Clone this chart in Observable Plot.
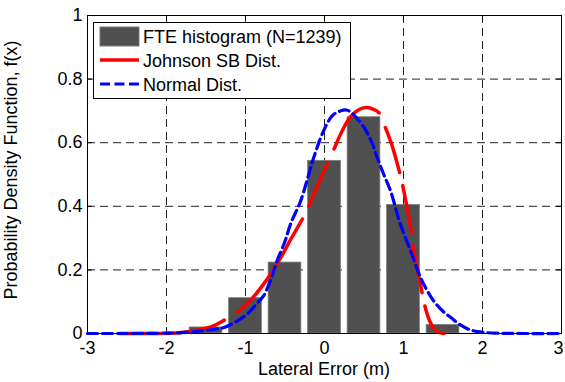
<!DOCTYPE html>
<html>
<head>
<meta charset="utf-8">
<script src="https://cdn.jsdelivr.net/npm/d3@7"></script>
<script src="https://cdn.jsdelivr.net/npm/@observablehq/plot@0.6"></script>
<style>
  html, body { margin: 0; padding: 0; background: white; }
  #chart { width: 565px; height: 382px; overflow: hidden; }
</style>
</head>
<body>
<div id="chart"></div>
<script>
// ---- data ----
const xTicks = [-3, -2, -1, 0, 1, 2, 3];
const yTicks = [0, 0.2, 0.4, 0.6, 0.8, 1];
const yTickLabels = ["0", "0.2", "0.4", "0.6", "0.8", "1"];

const binCenters = [-1.5, -1, -0.5, 0, 0.5, 1, 1.5];
const binHeights = [0.019, 0.111, 0.223, 0.543, 0.680, 0.404, 0.027];
const binHalfWidth = 0.207;

const johnsonX = [-2.6, -2.2, -1.85, -1.6, -1.4, -1.27, -1.105, -0.9, -0.725, -0.55, -0.43, -0.28, -0.2, -0.08, 0.034, 0.12, 0.22, 0.33, 0.45, 0.54, 0.62, 0.69, 0.77, 0.85, 0.95, 0.99, 1.05, 1.10, 1.12, 1.17, 1.235, 1.27, 1.33, 1.38, 1.44, 1.51];
const johnsonY = [0, 0, 0.002, 0.011, 0.025, 0.042, 0.066, 0.115, 0.171, 0.24, 0.295, 0.36, 0.40, 0.47, 0.533, 0.58, 0.635, 0.682, 0.706, 0.711, 0.705, 0.694, 0.648, 0.595, 0.507, 0.465, 0.39, 0.318, 0.276, 0.21, 0.129, 0.087, 0.04, 0.017, 0.004, 0];
// x-intervals where the Johnson SB line is broken in the reference
const johnsonGaps = [[-1.27, -1.105], [-0.28, -0.2], [0.034, 0.12], [0.69, 0.77], [0.95, 0.99], [1.10, 1.12], [1.235, 1.27]];

const normalX = [-3, -2.5, -2, -1.8, -1.6, -1.4, -1.27, -1.1, -0.98, -0.87, -0.77, -0.68, -0.6, -0.5, -0.43, -0.3, -0.2, -0.135, -0.01, 0.1, 0.2, 0.28, 0.36, 0.5, 0.6, 0.667, 0.75, 0.835, 0.96, 1.09, 1.215, 1.3, 1.38, 1.5, 1.6, 1.72, 1.85, 2, 2.2, 2.5, 3];
const normalY = [0, 0, 0.001, 0.003, 0.007, 0.013, 0.019, 0.04, 0.061, 0.09, 0.119, 0.17, 0.229, 0.29, 0.344, 0.418, 0.5, 0.554, 0.638, 0.685, 0.70, 0.703, 0.69, 0.648, 0.60, 0.554, 0.50, 0.449, 0.344, 0.26, 0.176, 0.135, 0.103, 0.07, 0.05, 0.027, 0.011, 0.004, 0.001, 0, 0];

const legendLabels = ["FTE histogram (N=1239)", "Johnson SB Dist.", "Normal Dist."];
const xLabel = "Lateral Error (m)";
const yLabel = "Probability Density Function, f(x)";

// ---- tables ----
const bars = binCenters.map((c, i) => ({x1: c - binHalfWidth, x2: c + binHalfWidth, y: binHeights[i]}));
const johnson = johnsonX.map((x, i) => ({x, y: johnsonY[i]}));
const normal = normalX.map((x, i) => ({x, y: normalY[i]}));

const font = "'Liberation Sans', Arial, Helvetica, sans-serif";
const fs = 18;
const gridStyle = {stroke: "#222", strokeWidth: 1, strokeDasharray: "8,5"};
const fmtX = d => String(d).replace("−", "-");

const chart = Plot.plot({
  width: 565,
  height: 382,
  marginLeft: 87,
  marginRight: 4,
  marginTop: 15,
  marginBottom: 49,
  style: {fontFamily: font, fontSize: fs + "px", background: "white", color: "black"},
  x: {domain: [-3, 3]},
  y: {domain: [0, 1]},
  marks: [
    Plot.ruleX(xTicks.slice(1, -1), gridStyle),
    Plot.ruleY(yTicks.slice(1, -1), gridStyle),
    // inward tick marks
    Plot.ruleX(xTicks, {y1: 0, y2: 0.016, stroke: "black"}),
    Plot.ruleX(xTicks, {y1: 0.984, y2: 1, stroke: "black"}),
    Plot.ruleY(yTicks, {x1: -3, x2: -2.94, stroke: "black"}),
    Plot.ruleY(yTicks, {x1: 2.94, x2: 3, stroke: "black"}),
    Plot.rectY(bars, {x1: "x1", x2: "x2", y: "y", fill: "#505050", stroke: "#7a7a7a", strokeWidth: 0.8}),
    Plot.line(johnson, {x: "x", y: "y", stroke: "#ff0000", strokeWidth: 3.5, curve: "catmull-rom", className: "johnson"}),
    Plot.line(normal, {x: "x", y: "y", stroke: "#0000ff", strokeWidth: 3.2, curve: "catmull-rom", strokeDasharray: "10,5"}),
    Plot.frame({stroke: "black", strokeWidth: 1}),
    Plot.axisX({ticks: xTicks.slice(0, -1), tickSize: 0, tickPadding: 8, label: null, fontSize: fs, tickFormat: fmtX}),
    Plot.axisX({ticks: xTicks.slice(-1), tickSize: 0, tickPadding: 8, label: null, fontSize: fs, tickFormat: fmtX, dx: -3}),
    Plot.axisY({ticks: yTicks, tickSize: 0, tickPadding: 5, label: null, fontSize: fs, tickFormat: (d, i) => yTickLabels[i]})
  ]
});

document.getElementById("chart").appendChild(chart);

// ---- break the Johnson SB line where the reference breaks it ----
const xs = chart.scale("x");
const jPath = chart.querySelector("g.johnson path") || Array.from(chart.querySelectorAll("path")).find(p => (p.getAttribute("stroke") || "").toLowerCase() === "#ff0000" || (p.parentNode.getAttribute("stroke") || "").toLowerCase() === "#ff0000");
if (jPath) {
  const total = jPath.getTotalLength();
  const lengthAtX = (px) => {
    let lo = 0, hi = total;
    for (let k = 0; k < 40; k++) {
      const mid = (lo + hi) / 2;
      if (jPath.getPointAtLength(mid).x < px) lo = mid; else hi = mid;
    }
    return (lo + hi) / 2;
  };
  const dash = [];
  let prev = 0;
  johnsonGaps.forEach(([a, b]) => {
    const la = lengthAtX(xs.apply(a)), lb = lengthAtX(xs.apply(b));
    dash.push(la - prev, lb - la);
    prev = lb;
  });
  dash.push(total - prev + 1, total + 10);
  jPath.setAttribute("stroke-dasharray", dash.map(d => d.toFixed(2)).join(","));
}

// ---- axis titles and in-plot legend ----
const svg = d3.select(chart);
svg.append("text")
  .attr("x", 324).attr("y", 375)
  .attr("text-anchor", "middle")
  .attr("font-family", font).attr("font-size", fs)
  .text(xLabel);
svg.append("text")
  .attr("transform", "translate(17,170) rotate(-90)")
  .attr("text-anchor", "middle")
  .attr("font-family", font).attr("font-size", fs)
  .text(yLabel);

const lg = svg.append("g").attr("text-anchor", "start");
lg.append("rect").attr("x", 93.5).attr("y", 22.5).attr("width", 257).attr("height", 76)
  .attr("fill", "white").attr("stroke", "black");
lg.append("rect").attr("x", 100).attr("y", 27).attr("width", 39).attr("height", 19)
  .attr("fill", "#505050").attr("stroke", "#7a7a7a");
lg.append("line").attr("x1", 100).attr("x2", 139).attr("y1", 60).attr("y2", 60)
  .attr("stroke", "#ff0000").attr("stroke-width", 3.5);
lg.append("line").attr("x1", 100).attr("x2", 139).attr("y1", 84).attr("y2", 84)
  .attr("stroke", "#0000ff").attr("stroke-width", 3.2).attr("stroke-dasharray", "10,4.5");
[43, 67, 91].forEach((y, i) => {
  lg.append("text").attr("x", 143).attr("y", y)
    .attr("text-anchor", "start")
    .attr("font-family", font).attr("font-size", fs)
    .text(legendLabels[i]);
});
</script>
</body>
</html>
